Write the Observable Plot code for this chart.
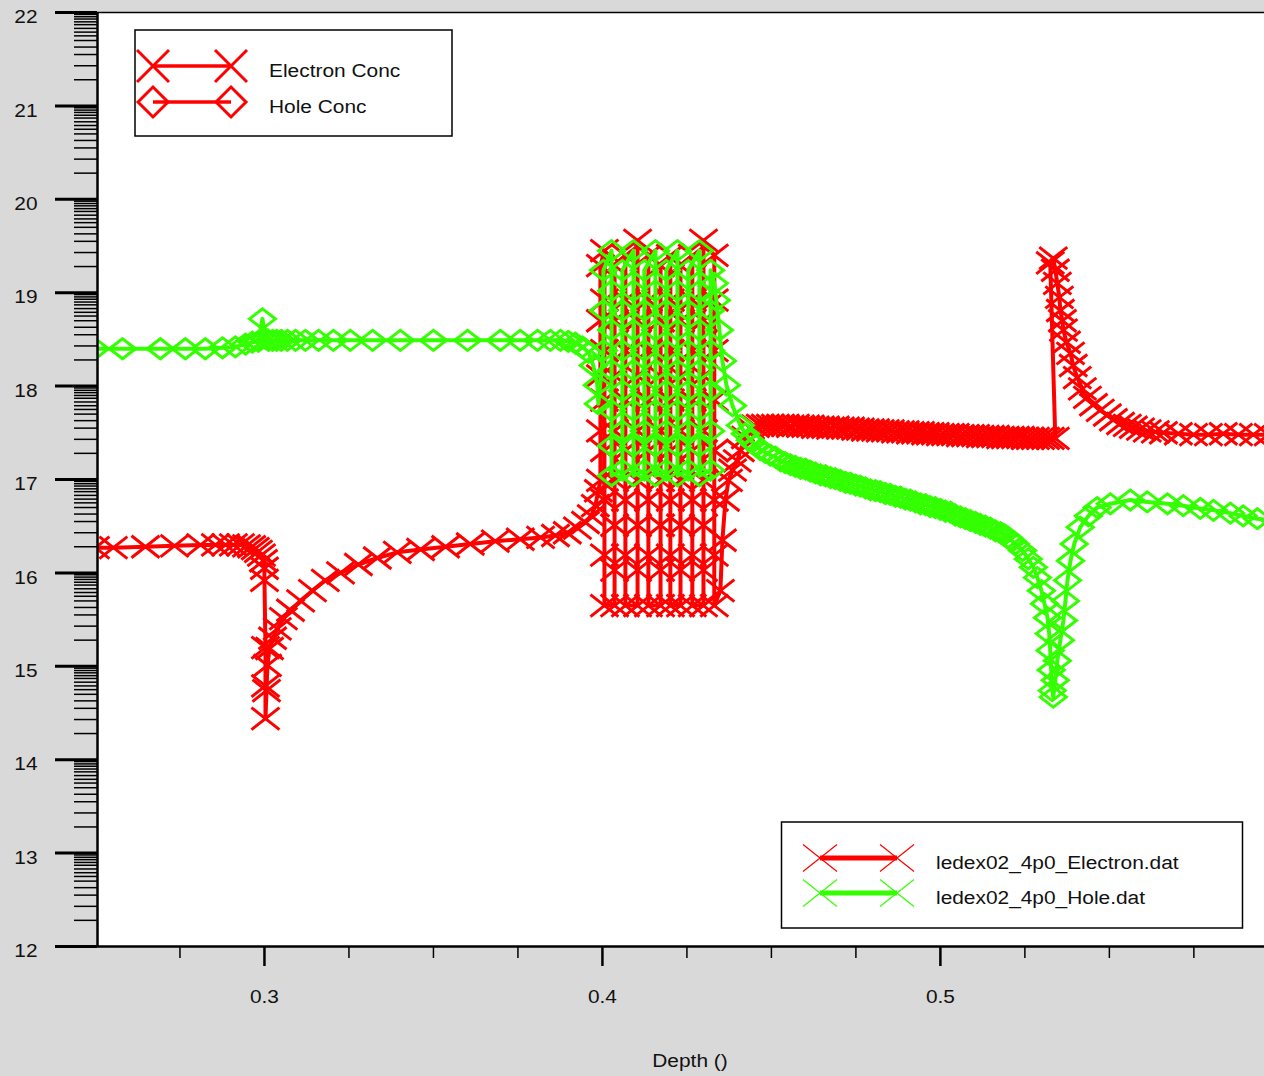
<!DOCTYPE html>
<html><head><meta charset="utf-8">
<script src="https://cdn.jsdelivr.net/npm/d3@7"></script>
<script src="https://cdn.jsdelivr.net/npm/@observablehq/plot@0.6"></script>
<style>
html,body{margin:0;padding:0;background:#d9d9d9;overflow:hidden;}
#chart{width:1264px;height:1076px;overflow:hidden;}
</style></head><body><div id="chart"></div>
<script>
// ---------------- data: electron concentration (log10 cm^-3) vs depth ----------------
const eDepthLeft = [0.2500, 0.2553, 0.2648, 0.2734, 0.2811, 0.2855, 0.2885, 0.2908, 0.2929, 0.2947,
  0.2962, 0.2973, 0.2982, 0.2991, 0.2997, 0.3000, 0.3000, 0.3003, 0.3003, 0.3003,
  0.3006, 0.3009, 0.3015, 0.3024, 0.3038, 0.3056, 0.3077, 0.3107, 0.3142, 0.3180,
  0.3225, 0.3278, 0.3334, 0.3393, 0.3462, 0.3536, 0.3609, 0.3683, 0.3757, 0.3817,
  0.3861, 0.3896, 0.3926, 0.3950, 0.3967, 0.3979, 0.3988];
const eConcLeft = [16.27, 16.27, 16.28, 16.29, 16.30, 16.30, 16.30, 16.30, 16.30, 16.29,
  16.28, 16.26, 16.23, 16.19, 16.13, 16.05, 15.92, 15.20, 14.79, 14.44,
  14.74, 15.01, 15.19, 15.30, 15.40, 15.51, 15.60, 15.70, 15.81, 15.92,
  16.00, 16.09, 16.16, 16.22, 16.25, 16.28, 16.31, 16.34, 16.36, 16.38,
  16.40, 16.43, 16.48, 16.54, 16.61, 16.72, 16.88];

const eDepthWells = [
  0.3994, 0.3994, 0.3994, 0.3994, 0.3994,
  0.4006, 0.4006, 0.4006, 0.4006, 0.4006, 0.4006, 0.4006, 0.4006,
  0.4036, 0.4036, 0.4036, 0.4036, 0.4036, 0.4036, 0.4036, 0.4036,
  0.4068, 0.4068, 0.4068, 0.4068, 0.4068, 0.4068, 0.4068, 0.4068,
  0.4104, 0.4104, 0.4104, 0.4104, 0.4104, 0.4104, 0.4104, 0.4104,
  0.4136, 0.4136, 0.4136, 0.4136, 0.4136, 0.4136, 0.4136, 0.4136,
  0.4172, 0.4172, 0.4172, 0.4172, 0.4172, 0.4172, 0.4172, 0.4172,
  0.4201, 0.4201, 0.4201, 0.4201, 0.4201, 0.4201, 0.4201, 0.4201,
  0.4231, 0.4231, 0.4231, 0.4231, 0.4231, 0.4231, 0.4231, 0.4231,
  0.4266, 0.4266, 0.4266, 0.4266, 0.4266, 0.4266, 0.4266, 0.4266,
  0.4299, 0.4299, 0.4299, 0.4299, 0.4299, 0.4299, 0.4299, 0.4299,
  0.4331, 0.4331, 0.4331, 0.4331, 0.4331, 0.4331, 0.4331, 0.4331,
  0.4349, 0.4355, 0.4364, 0.4373, 0.4385, 0.4399, 0.4408, 0.4423, 0.4438];
const eConcWells = [
  16.99, 17.52, 18.11, 18.70, 19.29,
  19.45, 18.92, 18.38, 17.85, 17.31, 16.78, 16.19, 15.65,
  15.65, 16.03, 16.51, 16.99, 17.52, 18.11, 18.70, 19.29,
  19.40, 18.92, 18.38, 17.85, 17.31, 16.78, 16.19, 15.65,
  15.65, 16.03, 16.51, 16.99, 17.52, 18.11, 18.70, 19.56,
  19.40, 18.92, 18.38, 17.85, 17.31, 16.78, 16.19, 15.65,
  15.65, 16.03, 16.51, 16.99, 17.52, 18.11, 18.70, 19.29,
  19.40, 18.92, 18.38, 17.85, 17.31, 16.78, 16.19, 15.65,
  15.65, 16.03, 16.51, 16.99, 17.52, 18.11, 18.70, 19.29,
  19.40, 18.92, 18.38, 17.85, 17.31, 16.78, 16.19, 15.65,
  15.65, 16.03, 16.51, 16.99, 17.52, 18.11, 18.70, 19.56,
  19.40, 18.92, 18.38, 17.85, 17.31, 16.78, 16.19, 15.65,
  15.81, 16.35, 16.78, 16.99, 17.10, 17.20, 17.31, 17.45, 17.55];

const eDepthRight = [0.4453, 0.4467, 0.4482, 0.4497, 0.4512, 0.4527, 0.4541, 0.4556, 0.4571, 0.4586,
  0.4601, 0.4615, 0.4630, 0.4645, 0.4660, 0.4675, 0.4689, 0.4704, 0.4719, 0.4734,
  0.4749, 0.4763, 0.4778, 0.4793, 0.4808, 0.4822, 0.4837, 0.4852, 0.4867, 0.4882,
  0.4896, 0.4911, 0.4926, 0.4941, 0.4956, 0.4970, 0.4985, 0.5000, 0.5015, 0.5030,
  0.5044, 0.5059, 0.5074, 0.5089, 0.5104, 0.5118, 0.5133, 0.5148, 0.5163, 0.5178,
  0.5192, 0.5207, 0.5222, 0.5237, 0.5251, 0.5266, 0.5281, 0.5296, 0.5311, 0.5325,
  0.5340,
  0.5325, 0.5334, 0.5340, 0.5346, 0.5352, 0.5355, 0.5361, 0.5364, 0.5373, 0.5385,
  0.5393, 0.5405, 0.5420, 0.5435, 0.5453, 0.5473, 0.5494, 0.5512, 0.5533, 0.5553,
  0.5571, 0.5592, 0.5612, 0.5636, 0.5660, 0.5704, 0.5749, 0.5793, 0.5837, 0.5882,
  0.5926, 0.5970];
const eConcRight = [17.57, 17.58, 17.58, 17.58, 17.58, 17.58, 17.58, 17.57, 17.58, 17.57,
  17.57, 17.57, 17.56, 17.56, 17.56, 17.55, 17.56, 17.55, 17.55, 17.55,
  17.54, 17.54, 17.53, 17.53, 17.53, 17.52, 17.52, 17.52, 17.51, 17.51,
  17.51, 17.50, 17.50, 17.50, 17.49, 17.49, 17.49, 17.48, 17.48, 17.48,
  17.48, 17.47, 17.47, 17.47, 17.47, 17.46, 17.46, 17.46, 17.46, 17.45,
  17.45, 17.45, 17.45, 17.45, 17.44, 17.44, 17.44, 17.44, 17.44, 17.44,
  17.44,
  19.32, 19.37, 19.24, 19.10, 18.95, 18.81, 18.70, 18.60, 18.47, 18.35,
  18.22, 18.09, 17.97, 17.88, 17.80, 17.74, 17.69, 17.64, 17.60, 17.58,
  17.56, 17.54, 17.52, 17.51, 17.50, 17.49, 17.48, 17.48, 17.49, 17.48,
  17.48, 17.48];

// ---------------- data: hole concentration ----------------
const hDepthLeft = [0.2500, 0.2580, 0.2692, 0.2766, 0.2825, 0.2876, 0.2914, 0.2944, 0.2964, 0.2982,
  0.2994, 0.3003, 0.3012, 0.3024, 0.3036, 0.3050, 0.3068, 0.3092, 0.3121, 0.3160,
  0.3204, 0.3254, 0.3320, 0.3402, 0.3500, 0.3601, 0.3698, 0.3757, 0.3808, 0.3846,
  0.3876, 0.3899, 0.3920, 0.3941, 0.3959, 0.3973, 0.3985, 0.3988];
const hConcLeft = [18.40, 18.40, 18.40, 18.40, 18.40, 18.41, 18.42, 18.45, 18.47, 18.48,
  18.72, 18.51, 18.49, 18.49, 18.49, 18.49, 18.49, 18.49, 18.49, 18.49,
  18.49, 18.49, 18.49, 18.49, 18.49, 18.49, 18.49, 18.49, 18.49, 18.49,
  18.49, 18.48, 18.46, 18.42, 18.36, 18.22, 18.01, 17.81];

const hDepthWells = [
  0.4003, 0.4003, 0.4003,
  0.4027, 0.4027, 0.4027, 0.4027, 0.4027, 0.4027, 0.4027,
  0.4059, 0.4059, 0.4059, 0.4059, 0.4059, 0.4059,
  0.4092, 0.4092, 0.4092, 0.4092, 0.4092, 0.4092, 0.4092,
  0.4124, 0.4124, 0.4124, 0.4124, 0.4124, 0.4124,
  0.4157, 0.4157, 0.4157, 0.4157, 0.4157, 0.4157, 0.4157,
  0.4189, 0.4189, 0.4189, 0.4189, 0.4189, 0.4189,
  0.4222, 0.4222, 0.4222, 0.4222, 0.4222, 0.4222, 0.4222,
  0.4254, 0.4254, 0.4254, 0.4254, 0.4254, 0.4254,
  0.4287, 0.4287, 0.4287, 0.4287, 0.4287, 0.4287, 0.4287,
  0.4320, 0.4320, 0.4320, 0.4320, 0.4320, 0.4320,
  0.4331, 0.4337, 0.4346, 0.4355, 0.4367, 0.4385];
const hConcWells = [
  18.38, 18.81, 19.24,
  19.45, 19.02, 18.60, 18.17, 17.74, 17.36, 17.04,
  17.10, 17.52, 17.95, 18.38, 18.81, 19.24,
  19.45, 19.02, 18.60, 18.17, 17.74, 17.36, 17.04,
  17.10, 17.52, 17.95, 18.38, 18.81, 19.24,
  19.45, 19.02, 18.60, 18.17, 17.74, 17.36, 17.04,
  17.10, 17.52, 17.95, 18.38, 18.81, 19.24,
  19.45, 19.02, 18.60, 18.17, 17.74, 17.36, 17.04,
  17.10, 17.52, 17.95, 18.38, 18.81, 19.24,
  19.45, 19.02, 18.60, 18.17, 17.74, 17.36, 17.04,
  17.10, 17.52, 17.95, 18.38, 18.81, 19.24,
  19.10, 18.92, 18.60, 18.27, 18.01, 17.79];

const hDepthRight = [0.4408, 0.4423, 0.4438, 0.4453, 0.4467, 0.4482, 0.4497, 0.4512, 0.4527, 0.4541,
  0.4556, 0.4571, 0.4586, 0.4601, 0.4615, 0.4630, 0.4645, 0.4660, 0.4675, 0.4689,
  0.4704, 0.4719, 0.4734, 0.4749, 0.4763, 0.4778, 0.4793, 0.4808, 0.4822, 0.4837,
  0.4852, 0.4867, 0.4882, 0.4896, 0.4911, 0.4926, 0.4941, 0.4956, 0.4970, 0.4985,
  0.5000, 0.5015, 0.5030, 0.5044, 0.5059, 0.5074, 0.5089, 0.5104, 0.5118, 0.5133,
  0.5148, 0.5163, 0.5178, 0.5189, 0.5201, 0.5213, 0.5222,
  0.5243, 0.5260, 0.5275, 0.5287, 0.5299, 0.5308, 0.5317, 0.5322, 0.5325, 0.5328,
  0.5331, 0.5334, 0.5340, 0.5346, 0.5355, 0.5364, 0.5370, 0.5376, 0.5385, 0.5396,
  0.5414, 0.5438, 0.5464, 0.5503, 0.5562, 0.5612, 0.5672, 0.5719, 0.5769, 0.5808,
  0.5858, 0.5896, 0.5938, 0.5991];
const hConcRight = [17.58, 17.49, 17.42, 17.37, 17.32, 17.29, 17.26, 17.24, 17.20, 17.18,
  17.16, 17.14, 17.12, 17.11, 17.09, 17.07, 17.05, 17.04, 17.02, 17.01,
  16.99, 16.97, 16.96, 16.94, 16.93, 16.91, 16.89, 16.88, 16.87, 16.85,
  16.84, 16.82, 16.81, 16.79, 16.78, 16.76, 16.74, 16.73, 16.71, 16.70,
  16.68, 16.66, 16.65, 16.62, 16.60, 16.58, 16.56, 16.54, 16.52, 16.50,
  16.48, 16.45, 16.43, 16.41, 16.38, 16.34, 16.31,
  16.24, 16.15, 16.06, 15.95, 15.81, 15.67, 15.52, 15.35, 15.17, 14.96,
  14.74, 14.67, 14.85, 15.06, 15.28, 15.49, 15.70, 15.92, 16.13, 16.31,
  16.49, 16.61, 16.70, 16.74, 16.78, 16.76, 16.74, 16.72, 16.69, 16.67,
  16.64, 16.61, 16.58, 16.56];

// ---------------- axes & labels ----------------
const xDomain = [0.2506, 0.5959];
const yDomain = [12, 22];
const xMajorTicks = [0.3, 0.4, 0.5];
const xMinorTicks = [0.275, 0.325, 0.35, 0.375, 0.425, 0.45, 0.475, 0.525, 0.55, 0.575];
const yMajorTicks = [12, 13, 14, 15, 16, 17, 18, 19, 20, 21, 22];
const yMinorFractions = [0.28, 0.43, 0.55, 0.63, 0.70, 0.75, 0.79, 0.83, 0.87, 0.90, 0.93, 0.955, 0.98];
const seriesLegend = ["Electron Conc", "Hole Conc"];
const fileLegend = ["ledex02_4p0_Electron.dat", "ledex02_4p0_Hole.dat"];
const xLabel = "Depth ()";

// ---------------- build ----------------
const pair = (ds, cs) => ds.map((d, i) => ({depth: d, conc: cs[i]})).filter(p => p.conc !== undefined);
const electron = [...pair(eDepthLeft, eConcLeft), ...pair(eDepthWells, eConcWells), ...pair(eDepthRight, eConcRight)];
const hole = [...pair(hDepthLeft, hConcLeft), ...pair(hDepthWells, hConcWells), ...pair(hDepthRight, hConcRight)];
const yMinorTicks = yMajorTicks.slice(0, -1).flatMap(t => yMinorFractions.map(f => t + f));

const RED = "#ff0000", GREEN = "#33ff00";
const crossSym = {draw(ctx) { ctx.moveTo(-14, -11); ctx.lineTo(14, 11); ctx.moveTo(-14, 11); ctx.lineTo(14, -11); }};
const diamondSym = {draw(ctx) { ctx.moveTo(-13, 0); ctx.lineTo(0, -10); ctx.lineTo(13, 0); ctx.lineTo(0, 10); ctx.closePath(); }};

const FONT = "'Liberation Sans', Arial, Helvetica, sans-serif";

const plot = Plot.plot({
  width: 1264, height: 1076,
  marginLeft: 97, marginRight: 0, marginTop: 12, marginBottom: 130,
  x: {domain: xDomain},
  y: {domain: yDomain},
  style: {background: "#d9d9d9", fontFamily: FONT, fontSize: "18px", color: "#111", overflow: "hidden"},
  marks: [
    Plot.frame({fill: "white", stroke: null}),
    Plot.line(electron, {x: "depth", y: "conc", stroke: RED, strokeWidth: 4, clip: true}),
    Plot.dot(electron, {x: "depth", y: "conc", symbol: crossSym, stroke: RED, strokeWidth: 3, fill: "none", clip: true}),
    Plot.line(hole, {x: "depth", y: "conc", stroke: GREEN, strokeWidth: 4, clip: true}),
    Plot.dot(hole, {x: "depth", y: "conc", symbol: diamondSym, stroke: GREEN, strokeWidth: 3, fill: "none", clip: true}),
    Plot.ruleY([yDomain[1]], {stroke: "black", strokeWidth: 1.5}),
    Plot.ruleY([yDomain[0]], {stroke: "black", strokeWidth: 2.5}),
    Plot.ruleX([xDomain[0]], {stroke: "black", strokeWidth: 2.5}),
    Plot.axisX({ticks: xMinorTicks, tickSize: 12, tickFormat: () => "", strokeWidth: 1.5, stroke: "black", label: null}),
    Plot.axisX({ticks: xMajorTicks, tickSize: 20, tickPadding: 24, strokeWidth: 2.5, stroke: "black", label: null, tickFormat: d => d.toFixed(1)}),
    Plot.axisY({ticks: yMinorTicks, tickSize: 23, tickFormat: () => "", strokeWidth: 1.5, stroke: "black", label: null}),
    Plot.axisY({ticks: yMajorTicks, tickSize: 42, tickFormat: () => "", strokeWidth: 3, stroke: "black", label: null}),
    Plot.axisY({ticks: yMajorTicks, tickSize: 0, tickPadding: 60, dy: 5, label: null})
  ]
});
document.getElementById("chart").appendChild(plot);

// ---------------- legends & axis title ----------------
const svg = d3.select(plot);
const g = svg.append("g").attr("font-family", FONT).attr("font-size", 18).attr("fill", "#111").attr("text-anchor", "start");
const crossPath = (cx, cy, hw, hh) => `M${cx - hw},${cy - hh}L${cx + hw},${cy + hh}M${cx - hw},${cy + hh}L${cx + hw},${cy - hh}`;
const diamondPath = (cx, cy, hw, hh) => `M${cx - hw},${cy}L${cx},${cy - hh}L${cx + hw},${cy}L${cx},${cy + hh}Z`;

// top-left legend
g.append("rect").attr("x", 135).attr("y", 30).attr("width", 317).attr("height", 106)
  .attr("fill", "white").attr("stroke", "black").attr("stroke-width", 1.5);
[[66, "x"], [102, "d"]].forEach(([cy, kind], i) => {
  g.append("line").attr("x1", 153).attr("x2", 231).attr("y1", cy).attr("y2", cy)
    .attr("stroke", RED).attr("stroke-width", 3.5);
  [153, 231].forEach(cx => {
    g.append("path").attr("d", kind === "x" ? crossPath(cx, cy, 16, 16) : diamondPath(cx, cy, 15, 15))
      .attr("fill", "none").attr("stroke", RED).attr("stroke-width", 3);
  });
  g.append("text").attr("x", 269).attr("y", cy + 11).attr("text-anchor", "start").text(seriesLegend[i]);
});

// bottom-right legend
g.append("rect").attr("x", 781.5).attr("y", 822).attr("width", 461).attr("height", 106)
  .attr("fill", "white").attr("stroke", "black").attr("stroke-width", 1.5);
[[858, RED], [893, GREEN]].forEach(([cy, col], i) => {
  g.append("line").attr("x1", 820).attr("x2", 897).attr("y1", cy).attr("y2", cy)
    .attr("stroke", col).attr("stroke-width", 5);
  [820, 897].forEach(cx => {
    g.append("path").attr("d", crossPath(cx, cy, 17, 13.5))
      .attr("fill", "none").attr("stroke", col).attr("stroke-width", 1.2);
  });
  g.append("text").attr("x", 936).attr("y", cy + 11).attr("text-anchor", "start").text(fileLegend[i]);
});

// x axis title
g.append("text").attr("x", 690).attr("y", 1067).attr("text-anchor", "middle").text(xLabel);

// horizontal stretch of all texts to match the wide lettering
svg.selectAll("text").each(function () {
  const w = this.getComputedTextLength();
  if (w > 0) {
    this.setAttribute("textLength", (w * 1.16).toFixed(1));
    this.setAttribute("lengthAdjust", "spacingAndGlyphs");
  }
});
</script>
</body></html>
